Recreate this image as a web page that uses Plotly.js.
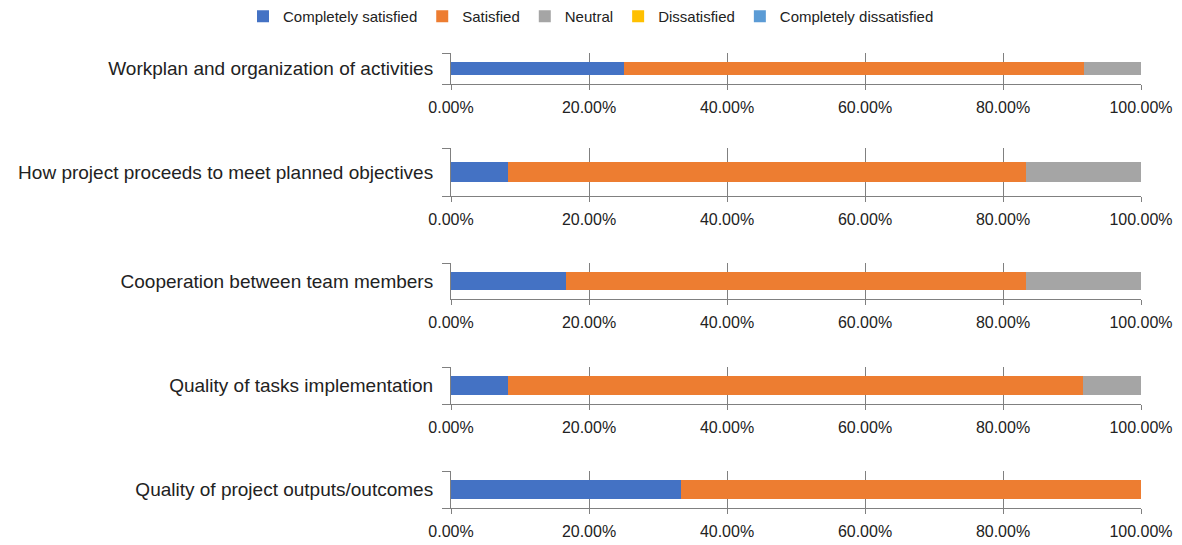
<!DOCTYPE html>
<html>
<head>
<meta charset="utf-8">
<script src="https://cdn.plot.ly/plotly-3.0.1.min.js"></script>
<style>html,body{margin:0;padding:0;background:#fff;}#chart{width:1182px;height:545px;}</style>
</head>
<body>
<div id="chart"></div>
<script>
const categories = [
  "Workplan and organization of activities",
  "How project proceeds to meet planned objectives",
  "Cooperation between team members",
  "Quality of tasks implementation",
  "Quality of project outputs/outcomes"
];
const seriesNames = ["Completely satisfied", "Satisfied", "Neutral", "Dissatisfied", "Completely dissatisfied"];
const completelySatisfied = [0.25, 0.0833, 0.1667, 0.0833, 0.3333];
const satisfied = [0.6667, 0.75, 0.6667, 0.8333, 0.6667];
const neutral = [0.0833, 0.1667, 0.1667, 0.0833, 0];
const dissatisfied = [0, 0, 0, 0, 0];
const completelyDissatisfied = [0, 0, 0, 0, 0];
const tickVals = [0, 0.2, 0.4, 0.6, 0.8, 1.0];
const tickText = ["0.00%", "20.00%", "40.00%", "60.00%", "80.00%", "100.00%"];

const seriesValues = [completelySatisfied, satisfied, neutral, dissatisfied, completelyDissatisfied];
const colors = ["#4472C4", "#ED7D31", "#A5A5A5", "#FFC000", "#5B9BD5"];

const W = 1182, H = 545;
const FONT = "Liberation Sans, Arial, sans-serif";
// plot area pixel boxes [top, bottom] per subplot
const boxes = [[53, 84], [148, 196], [263, 299], [367, 404], [471, 508]];
const barWidths = [0.43, 0.42, 0.5, 0.52, 0.49];
const xDom = [451 / W, 1141 / W];

const data = [];
const layout = {
  width: W, height: H,
  margin: {l: 0, r: 0, t: 0, b: 0},
  paper_bgcolor: "#fff", plot_bgcolor: "#fff",
  barmode: "stack",
  showlegend: true,
  legend: {orientation: "h", x: 0.5, xanchor: "center", y: 1 - 0 / H, yanchor: "top",
           font: {family: FONT, size: 15, color: "#222"},
           itemwidth: 30, tracegroupgap: 0},
  font: {family: FONT, color: "#222"}
};

categories.forEach((cat, i) => {
  const n = i + 1;
  const xa = "x" + (n === 1 ? "" : n), ya = "y" + (n === 1 ? "" : n);
  seriesNames.forEach((name, s) => {
    data.push({
      type: "bar", orientation: "h",
      y: [cat], x: [seriesValues[s][i]],
      width: [barWidths[i]],
      name: name, legendgroup: name, showlegend: i === 0,
      marker: {color: colors[s]},
      xaxis: xa, yaxis: ya, hoverinfo: "x+name"
    });
  });
  const [top, bot] = boxes[i];
  layout["xaxis" + (n === 1 ? "" : n)] = {
    domain: xDom, anchor: ya, range: [0, 1],
    tickvals: tickVals, ticktext: tickText,
    showgrid: true, gridcolor: "#808080", gridwidth: 1,
    showline: true, linecolor: "#808080", linewidth: 1,
    ticks: "outside", ticklen: 5, tickcolor: "#808080",
    ticklabelstandoff: 4,
    tickfont: {family: FONT, size: 16, color: "#222"},
    zeroline: false, fixedrange: true
  };
  layout["yaxis" + (n === 1 ? "" : n)] = {
    domain: [1 - bot / H, 1 - top / H], anchor: xa,
    type: "category", range: [-0.5, 0.5],
    showline: true, linecolor: "#808080", linewidth: 1,
    ticks: "outside", ticklen: 8, tickcolor: "#808080", tickson: "boundaries",
    ticklabelstandoff: 13,
    showgrid: false, zeroline: false, fixedrange: true,
    tickfont: {family: FONT, size: 19, color: "#222"}
  };
});

Plotly.newPlot("chart", data, layout, {displayModeBar: false, staticPlot: true});
</script>
</body>
</html>
